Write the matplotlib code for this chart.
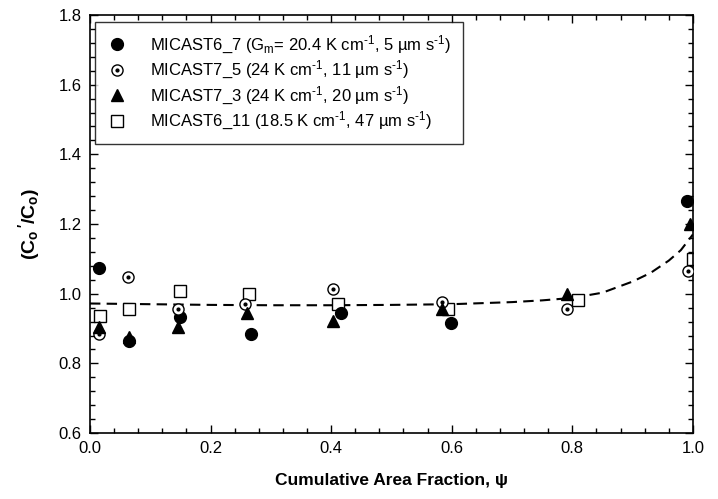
import matplotlib.pyplot as plt
from matplotlib.ticker import MultipleLocator

plt.rcParams['font.family'] = ['Liberation Sans', 'DejaVu Sans']
plt.rcParams['mathtext.fontset'] = 'custom'
plt.rcParams['mathtext.rm'] = 'Liberation Sans'
plt.rcParams['mathtext.it'] = 'Liberation Sans:italic'
plt.rcParams['mathtext.bf'] = 'Liberation Sans:bold'

# data
x_m67 = [0.015, 0.065, 0.149, 0.267, 0.416, 0.599, 0.990]
y_m67 = [1.075, 0.865, 0.932, 0.885, 0.944, 0.917, 1.265]

x_m75 = [0.015, 0.063, 0.146, 0.257, 0.403, 0.584, 0.791, 0.992]
y_m75 = [0.885, 1.048, 0.957, 0.971, 1.015, 0.977, 0.955, 1.066]

x_m73 = [0.015, 0.065, 0.146, 0.260, 0.403, 0.584, 0.791, 0.995]
y_m73 = [0.905, 0.877, 0.905, 0.945, 0.922, 0.957, 1.000, 1.200]

x_m611 = [0.017, 0.065, 0.149, 0.264, 0.411, 0.594, 0.810, 1.000]
y_m611 = [0.937, 0.957, 1.008, 0.998, 0.971, 0.957, 0.983, 1.100]

x_fit = [0.0, 0.1, 0.2, 0.3, 0.4, 0.5, 0.6, 0.7, 0.75, 0.8, 0.85, 0.9, 0.93, 0.96, 0.98, 1.0]
y_fit = [0.972, 0.970, 0.968, 0.967, 0.967, 0.968, 0.970, 0.976, 0.981, 0.988, 1.003, 1.035, 1.060, 1.095, 1.125, 1.170]

sup = r'$^{\text{-1}}$'
labels = ['MICAST6_7 (G$_{\\text{m}}$= 20.4 K cm' + sup + ', 5 \u00b5m s' + sup + ')',
          'MICAST7_5 (24 K cm' + sup + ', 11 \u00b5m s' + sup + ')',
          'MICAST7_3 (24 K cm' + sup + ', 20 \u00b5m s' + sup + ')',
          'MICAST6_11 (18.5 K cm' + sup + ', 47 \u00b5m s' + sup + ')']

fig = plt.figure(figsize=(7.18, 4.99), dpi=100)
ax = fig.add_axes([0.1253, 0.132, 0.8397, 0.838])

ax.plot(x_fit, y_fit, color='black', linestyle=(0, (5, 3)), linewidth=1.5, zorder=1)

h1, = ax.plot(x_m67, y_m67, 'o', color='black', markersize=8.5, linestyle='none', zorder=3)
h2a, = ax.plot(x_m75, y_m75, 'o', markerfacecolor='white', markeredgecolor='black',
               markeredgewidth=1.0, markersize=8, linestyle='none', zorder=3)
h2b, = ax.plot(x_m75, y_m75, 'o', color='black', markersize=2, linestyle='none', zorder=4)
h3, = ax.plot(x_m73, y_m73, '^', color='black', markersize=8.5, linestyle='none', zorder=3)
h4, = ax.plot(x_m611, y_m611, 's', markerfacecolor='white', markeredgecolor='black',
              markeredgewidth=1.0, markersize=8, linestyle='none', zorder=2)

leg = ax.legend([h1, (h2a, h2b), h3, h4], labels, loc='upper left',
                bbox_to_anchor=(0.009, 0.983), fontsize=12, frameon=True,
                fancybox=False, edgecolor='black', handlelength=1.2,
                handletextpad=1.4, borderpad=0.7, labelspacing=0.2,
                borderaxespad=0)
leg.get_frame().set_linewidth(1.0)

ax.set_xlim(0.0, 1.0)
ax.set_ylim(0.6, 1.8)
ax.xaxis.set_major_locator(MultipleLocator(0.2))
ax.xaxis.set_minor_locator(MultipleLocator(0.04))
ax.yaxis.set_major_locator(MultipleLocator(0.2))
ax.yaxis.set_minor_locator(MultipleLocator(0.04))
ax.xaxis.set_major_formatter(plt.FormatStrFormatter('%.1f'))
ax.yaxis.set_major_formatter(plt.FormatStrFormatter('%.1f'))
ax.tick_params(which='both', direction='in', top=True, right=True, labelsize=12, width=1.0)
ax.tick_params(which='major', length=6, pad=6)
ax.tick_params(which='minor', length=3.5)
for s in ax.spines.values():
    s.set_linewidth(1.2)

ax.set_xlabel('Cumulative Area Fraction, \u03c8', fontsize=12.5, fontweight='bold', labelpad=12)
ax.set_ylabel(r"$\mathbf{(C_o\,'/C_o)}$", fontsize=14, labelpad=12)

fig.savefig('out.png', dpi=100)
